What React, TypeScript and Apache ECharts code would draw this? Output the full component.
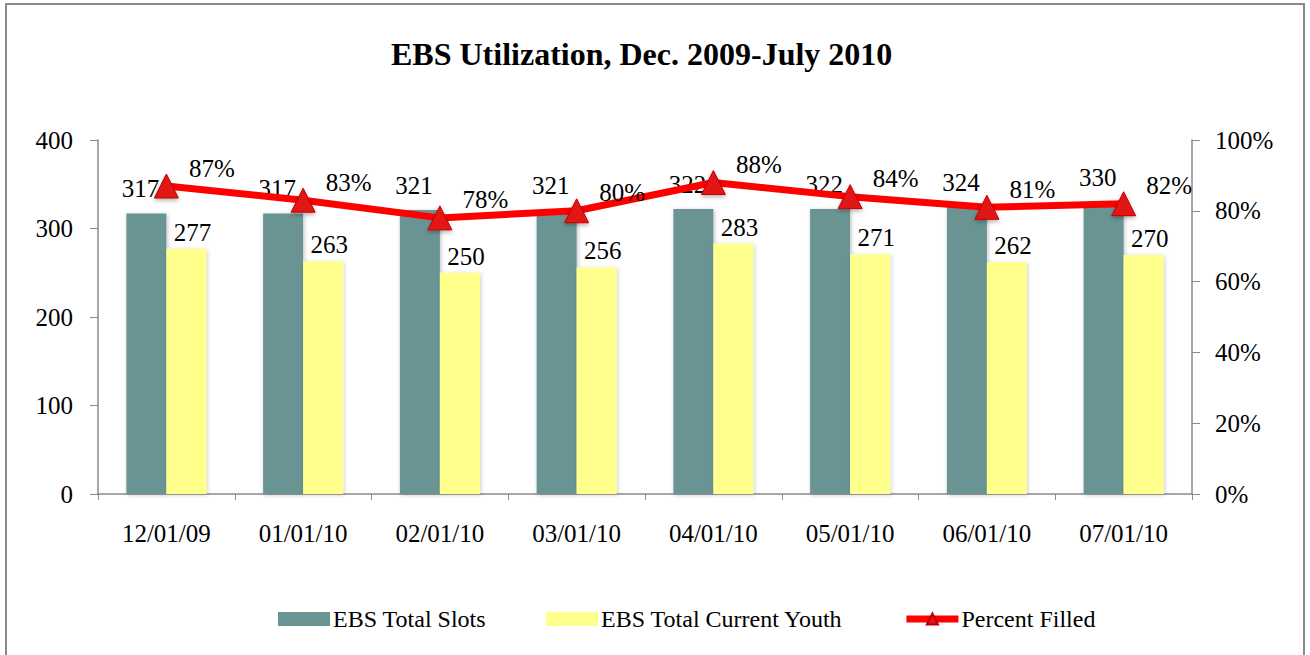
import React, { useEffect, useRef } from "react";
import * as echarts from "echarts";

const categories = ["12/01/09", "01/01/10", "02/01/10", "03/01/10", "04/01/10", "05/01/10", "06/01/10", "07/01/10"];
const totalSlots = [317, 317, 321, 321, 322, 322, 324, 330];
const currentYouth = [277, 263, 250, 256, 283, 271, 262, 270];
const percentFilled = [87, 83, 78, 80, 88, 84, 81, 82];

const FONT = "'Liberation Serif', 'Times New Roman', serif";
const FS = 25;

export default function App() {
  const ref = useRef<HTMLDivElement>(null);
  useEffect(() => {
    if (!ref.current) return;
    const chart = echarts.init(ref.current, undefined, { renderer: "svg" });
    chart.setOption({
      animation: false,
      backgroundColor: "#ffffff",
      textStyle: { fontFamily: FONT, color: "#000" },
      title: {
        text: "EBS Utilization, Dec. 2009-July 2010",
        left: 386,
        top: 33,
        textStyle: { fontFamily: FONT, fontSize: 32, fontWeight: "bold", color: "#000" },
      },
      graphic: [
        {
          type: "rect",
          shape: { x: 6, y: 4, width: 1298, height: 700 },
          style: { fill: "none", stroke: "#8a8a8a", lineWidth: 2 },
          silent: true,
          z: -10,
        },
      ],
      legend: {
        bottom: 19,
        left: 273,
        itemWidth: 52,
        itemHeight: 14,
        itemGap: 60,
        textStyle: { fontFamily: FONT, fontSize: 24, color: "#000", padding: [0, 0, 0, -2] },
        data: [
          { name: "EBS Total Slots", icon: "rect" },
          { name: "EBS Total Current Youth", icon: "rect" },
          { name: "Percent Filled", lineStyle: { width: 7 } },
        ],
      },
      grid: { left: 98, right: 118, top: 140, bottom: 161 },
      xAxis: {
        type: "category",
        data: categories,
        axisLine: { lineStyle: { color: "#8a8a8a", width: 1.5 } },
        axisTick: { show: true, length: 6, lineStyle: { color: "#8a8a8a" } },
        axisLabel: { fontFamily: FONT, fontSize: FS, color: "#000", margin: 27 },
      },
      yAxis: [
        {
          type: "value",
          min: 0,
          max: 400,
          interval: 100,
          splitLine: { show: false },
          axisLine: { show: true, lineStyle: { color: "#8a8a8a", width: 1.5 } },
          axisTick: { show: true, length: 8, lineStyle: { color: "#8a8a8a" } },
          axisLabel: { fontFamily: FONT, fontSize: FS, color: "#000", margin: 25 },
        },
        {
          type: "value",
          min: 0,
          max: 100,
          interval: 20,
          splitLine: { show: false },
          axisLine: { show: true, lineStyle: { color: "#8a8a8a", width: 1.5 } },
          axisTick: { show: true, length: 8, lineStyle: { color: "#8a8a8a" } },
          axisLabel: { fontFamily: FONT, fontSize: FS, color: "#000", margin: 23, formatter: "{value}%" },
        },
      ],
      series: [
        {
          name: "EBS Total Slots",
          type: "bar",
          data: totalSlots,
          barWidth: 40,
          barGap: "0%",
          itemStyle: {
            color: "#6a9494",
            shadowBlur: 4,
            shadowColor: "rgba(0,0,0,0.25)",
            shadowOffsetX: 1,
            shadowOffsetY: 1,
          },
          label: {
            show: true,
            position: "top",
            distance: 12,
            offset: [-6, 0],
            fontFamily: FONT,
            fontSize: FS,
            color: "#000",
          },
        },
        {
          name: "EBS Total Current Youth",
          type: "bar",
          data: currentYouth,
          barWidth: 40,
          barGap: "0%",
          itemStyle: {
            color: "#ffff8c",
            shadowBlur: 4,
            shadowColor: "rgba(0,0,0,0.2)",
            shadowOffsetX: 1,
            shadowOffsetY: 1,
          },
          label: {
            show: true,
            position: "top",
            distance: 4,
            offset: [6, 0],
            fontFamily: FONT,
            fontSize: FS,
            color: "#000",
          },
        },
        {
          name: "Percent Filled",
          type: "line",
          yAxisIndex: 1,
          data: percentFilled,
          symbol: "triangle",
          symbolSize: 24,
          lineStyle: { color: "#ff0000", width: 7 },
          itemStyle: {
            color: "#e31414",
            borderColor: "#c00000",
            borderWidth: 1,
            shadowBlur: 4,
            shadowColor: "rgba(0,0,0,0.3)",
            shadowOffsetY: 2,
          },
          label: {
            show: true,
            position: "right",
            distance: 10,
            offset: [0, -18],
            formatter: "{c}%",
            fontFamily: FONT,
            fontSize: FS,
            color: "#000",
          },
          z: 5,
        },
      ],
    });
    return () => chart.dispose();
  }, []);
  return (
    <div
      ref={ref}
      style={{ position: "absolute", left: 0, top: 0, width: 1310, height: 655 }}
    />
  );
}
